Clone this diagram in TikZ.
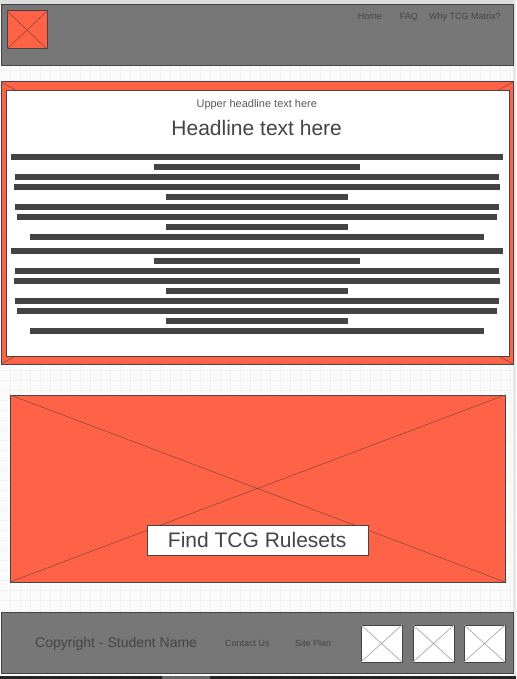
\documentclass[tikz,border=0pt]{standalone}
\usepackage{fontspec}
\setmainfont{Liberation Sans}
\definecolor{tomatoc}{HTML}{FF6347}
\definecolor{headgray}{HTML}{777777}
\definecolor{edgec}{HTML}{444444}
\definecolor{txtc}{HTML}{444444}
\definecolor{gridc}{HTML}{F1F1F1}
\definecolor{bgc}{HTML}{FBFBFB}
\definecolor{xred}{HTML}{8E4A3C}
\definecolor{xgray}{HTML}{AAAAAA}
\tikzset{
  box/.style={draw=edgec, line width=1pt, inner sep=0pt, outer sep=0pt, anchor=north west},
  navtxt/.style={anchor=base west, inner sep=0pt, text=txtc, font=\fontsize{9}{9}\selectfont},
  bar/.style={fill=txtc, draw=none},
}
\begin{document}
\begin{tikzpicture}[x=1pt,y=-1pt]
\useasboundingbox (0,0) rectangle (516,679);
% page background with grid
\fill[bgc] (0,0) rectangle (516,679);
\foreach \g in {10,20,...,510} \draw[gridc, line width=0.5pt] (\g,0) -- (\g,679);
\foreach \g in {10,20,...,670} \draw[gridc, line width=0.5pt] (0,\g) -- (516,\g);
\fill[black!13] (0,0) rectangle (516,5);
\fill[black!9] (513,0) rectangle (516,679);
\fill[black!86] (0,676) rectangle (516,679);
\fill[black!60] (162,676) rectangle (210,679);
% header
\node[box, fill=headgray, minimum width=512pt, minimum height=61pt] (header) at (1,5) {};
\node[box, fill=tomatoc, minimum width=40pt, minimum height=38pt] (logo) at (7,11) {};
\draw[xred, line width=0.6pt] (logo.north west) -- (logo.south east) (logo.north east) -- (logo.south west);
\node[navtxt] (home) at (357.7,19.5) {Home};
\node[navtxt] (faq) at (399.7,19.5) {FAQ};
\node[navtxt] (why) at (429,19.5) {Why TCG Matrix?};
% main content
\node[box, fill=tomatoc, minimum width=512pt, minimum height=282pt] (main) at (1,82) {};
\draw[xred, line width=0.6pt] (main.north west) -- (main.south east) (main.north east) -- (main.south west);
\node[box, fill=white, minimum width=503pt, minimum height=265pt] (inner) at (6,91) {};
\node[anchor=base, inner sep=0pt, text=black!65, font=\fontsize{11}{11}\selectfont] (upper) at (256.8,108) {Upper headline text here};
\node[anchor=base, inner sep=0pt, text=txtc, font=\fontsize{21}{21}\selectfont] (headline) at (256.7,136) {Headline text here};
\foreach \off in {154,248} {
  \foreach \dy/\xa/\xb in {0/11/503,10/154/360,20/15/499,30/14/500,40/166/348,50/15/499,60/17/497,70/166/348,80/30/484} {
    \fill[txtc] (\xa,\off+\dy) rectangle (\xb,\off+\dy+6);
  }
}
% hero
\node[box, fill=tomatoc, minimum width=495pt, minimum height=187pt] (hero) at (10,395) {};
\draw[xred, line width=0.6pt] (hero.north west) -- (hero.south east) (hero.north east) -- (hero.south west);
\node[box, fill=white, minimum width=221pt, minimum height=30pt] (button) at (147,525) {};
\node[anchor=base, inner sep=0pt, text=txtc, font=\fontsize{21}{21}\selectfont] (btntxt) at (257.2,547.7) {Find TCG Rulesets};
% footer
\node[box, fill=headgray, minimum width=512pt, minimum height=61pt] (footer) at (1,612) {};
\node[anchor=base west, inner sep=0pt, text=txtc, font=\fontsize{14}{14}\selectfont] (copy) at (35,647.7) {Copyright - Student Name};
\node[navtxt] (contact) at (225,646.3) {Contact Us};
\node[navtxt] (siteplan) at (295,646.3) {Site Plan};
\foreach \n/\xx in {ic1/361,ic2/413,ic3/464} {
  \node[box, fill=white, minimum width=41pt, minimum height=37pt] (\n) at (\xx,625) {};
  \draw[xgray, line width=0.7pt] (\n.north west) -- (\n.south east) (\n.north east) -- (\n.south west);
}
\end{tikzpicture}
\end{document}
